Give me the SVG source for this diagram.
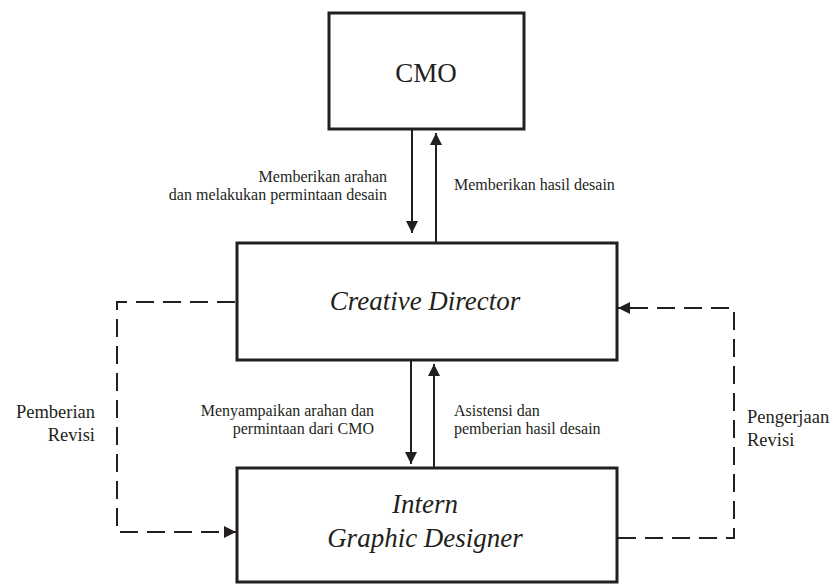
<svg xmlns="http://www.w3.org/2000/svg" width="833" height="585" viewBox="0 0 833 585" font-family="Liberation Serif, DejaVu Serif, serif">
<style>
.box{fill:#fff;stroke:#231f20;stroke-width:3}
.t{fill:#231f20}
.lbl{font-size:16px}
.side{font-size:18.5px}
.big{font-size:27px}
.arr{stroke:#231f20;stroke-width:2;fill:none}
.dash{stroke:#231f20;stroke-width:2;fill:none;stroke-dasharray:18 9}
</style>
<defs>
<marker id="ah" markerWidth="13" markerHeight="12" refX="12" refY="6" orient="auto" markerUnits="userSpaceOnUse">
<path d="M0,0 L12,6 L0,12 Z" fill="#231f20"/>
</marker>
</defs>
<rect width="833" height="585" fill="#fff"/>
<g id="connectors">
<line class="arr" x1="412" y1="130" x2="412" y2="233" marker-end="url(#ah)"/>
<line class="arr" x1="436" y1="242" x2="436" y2="133" marker-end="url(#ah)"/>
<line class="arr" x1="411" y1="361" x2="411" y2="464" marker-end="url(#ah)"/>
<line class="arr" x1="434" y1="468" x2="434" y2="364" marker-end="url(#ah)"/>
<path class="dash" d="M235,302 H117 V532 H236" marker-end="url(#ah)"/>
<path class="dash" d="M618,538 H734 V308 H618" marker-end="url(#ah)"/>
<text class="t lbl" font-family="Liberation Serif, DejaVu Serif, serif" text-anchor="end"><tspan x="387" y="182">Memberikan arahan</tspan><tspan x="387" y="200">dan melakukan permintaan desain</tspan></text>
<text class="t lbl" font-family="Liberation Serif, DejaVu Serif, serif" x="454" y="190">Memberikan hasil desain</text>
<text class="t lbl" font-family="Liberation Serif, DejaVu Serif, serif" text-anchor="end"><tspan x="374" y="416">Menyampaikan arahan dan</tspan><tspan x="374" y="434">permintaan dari CMO</tspan></text>
<text class="t lbl" font-family="Liberation Serif, DejaVu Serif, serif"><tspan x="454" y="416">Asistensi dan</tspan><tspan x="454" y="434">pemberian hasil desain</tspan></text>
<text class="t side" font-family="Liberation Serif, DejaVu Serif, serif" text-anchor="end"><tspan x="95" y="418">Pemberian</tspan><tspan x="95" y="441">Revisi</tspan></text>
<text class="t side" font-family="Liberation Serif, DejaVu Serif, serif"><tspan x="747" y="423">Pengerjaan</tspan><tspan x="747" y="446">Revisi</tspan></text>
</g>
<g id="cmo">
<rect class="box" x="329" y="13" width="195" height="116"/>
<text class="t big" font-family="Liberation Serif, DejaVu Serif, serif" x="426" y="82" text-anchor="middle">CMO</text>
</g>
<g id="creative-director">
<rect class="box" x="237" y="243" width="380" height="117"/>
<text class="t big" font-family="Liberation Serif, DejaVu Serif, serif" x="425" y="310" font-style="italic" text-anchor="middle">Creative Director</text>
</g>
<g id="intern-graphic-designer">
<rect class="box" x="237" y="468" width="380" height="114"/>
<text class="t big" font-family="Liberation Serif, DejaVu Serif, serif" font-style="italic" text-anchor="middle"><tspan x="425" y="513">Intern</tspan><tspan x="425" y="547">Graphic Designer</tspan></text>
</g>
</svg>
